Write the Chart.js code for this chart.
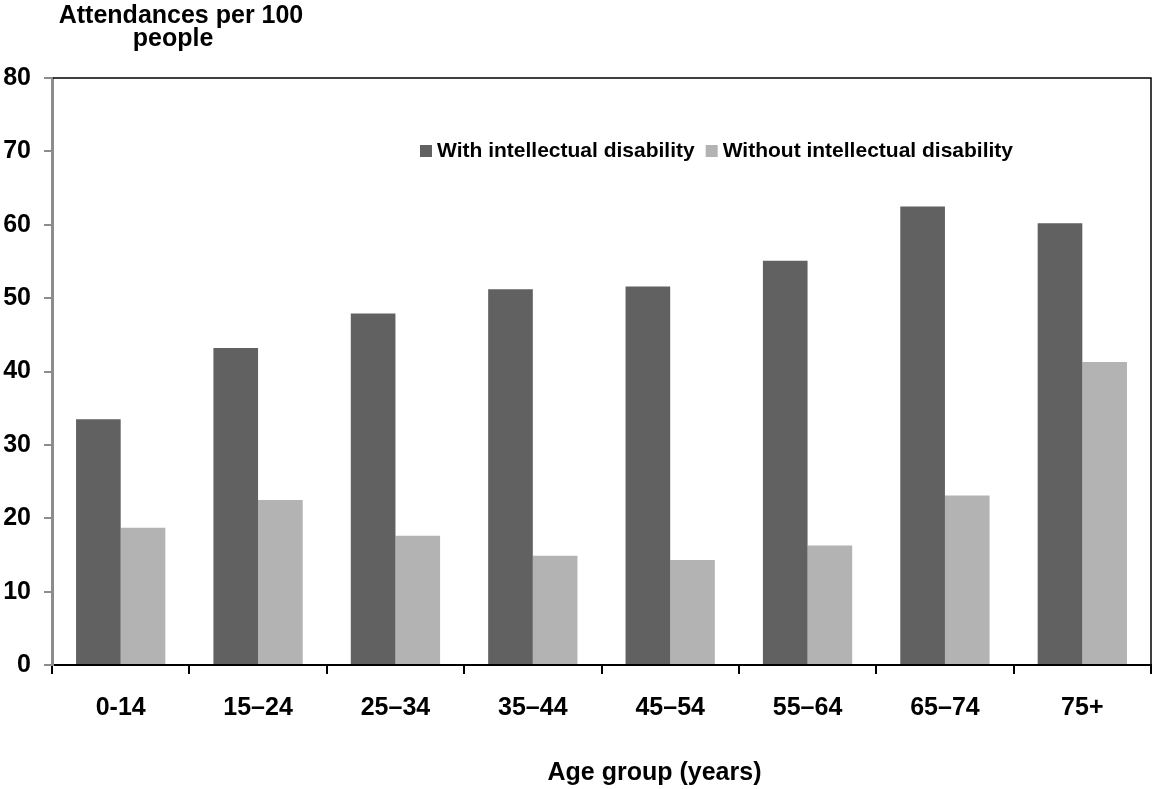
<!DOCTYPE html>
<html>
<head>
<meta charset="utf-8">
<title>Attendances by age group</title>
<script src="https://cdn.jsdelivr.net/npm/chart.js@4.4.1/dist/chart.umd.min.js"></script>
<style>
  html, body { margin: 0; padding: 0; background: #fff; }
  canvas { display: block; }
</style>
</head>
<body>
<canvas id="chart" width="1152" height="789"></canvas>
<script>
// data
const ageGroups = ['0-14', '15–24', '25–34', '35–44', '45–54', '55–64', '65–74', '75+'];
const withID = [33.5, 43.2, 47.9, 51.2, 51.6, 55.1, 62.5, 60.2];
const withoutID = [18.7, 22.5, 17.6, 14.9, 14.3, 16.3, 23.1, 41.3];
const seriesNames = ['With intellectual disability', 'Without intellectual disability'];
const yTicks = [0, 10, 20, 30, 40, 50, 60, 70, 80];

const FONT = "'Liberation Sans', Arial, sans-serif";
const DARK = '#616161';
const LIGHT = '#b3b3b3';
const AXIS_GREY = '#8c8c8c';

// titles, in-plot legend and the black frame on top / right
const extras = {
  id: 'extras',
  afterDraw(chart) {
    const ctx = chart.ctx;
    const a = chart.chartArea;
    ctx.save();

    // frame
    ctx.strokeStyle = '#000';
    ctx.lineWidth = 1.5;
    ctx.beginPath();
    ctx.moveTo(a.left + 1, a.top);
    ctx.lineTo(a.right, a.top);
    ctx.lineTo(a.right, a.bottom);
    ctx.stroke();

    // y title (two lines, above the axis)
    ctx.fillStyle = '#000';
    ctx.font = 'bold 25px ' + FONT;
    ctx.textAlign = 'center';
    ctx.textBaseline = 'alphabetic';
    ctx.fillText('Attendances per 100', a.left + 129, 23);
    ctx.fillText('people', a.left + 121, 46);

    // x title
    ctx.fillText('Age group (years)', (a.left + a.right) / 2 + 53, 780);

    // legend
    ctx.font = 'bold 21px ' + FONT;
    ctx.textAlign = 'left';
    ctx.textBaseline = 'middle';
    let x = a.left + 368;
    const cy = a.top + 73;
    chart.data.datasets.forEach(ds => {
      ctx.fillStyle = ds.backgroundColor;
      ctx.fillRect(x, cy - 6, 12, 12);
      x += 17;
      ctx.fillStyle = '#000';
      ctx.fillText(ds.label, x, cy);
      x += ctx.measureText(ds.label).width + 11;
    });

    ctx.restore();
  }
};

const cfg = {
  type: 'bar',
  data: {
    labels: ageGroups,
    datasets: [
      { label: seriesNames[0], data: withID, backgroundColor: DARK },
      { label: seriesNames[1], data: withoutID, backgroundColor: LIGHT }
    ]
  },
  options: {
    responsive: false,
    animation: false,
    devicePixelRatio: 1,
    layout: { padding: { top: 78, right: 1, left: 0, bottom: 0 } },
    datasets: {
      bar: { categoryPercentage: 0.65, barPercentage: 1, borderWidth: 0 }
    },
    plugins: {
      legend: { display: false },
      tooltip: { enabled: false },
      title: { display: false }
    },
    scales: {
      x: {
        grid: {
          offset: true,
          drawOnChartArea: false,
          tickLength: 9,
          color: '#000',
          lineWidth: 2
        },
        border: { color: '#000', width: 2 },
        ticks: {
          color: '#000',
          padding: 19,
          maxRotation: 0,
          autoSkip: false,
          font: { family: FONT, size: 25, weight: 'bold' }
        },
        afterFit(scale) { scale.height = 124; }
      },
      y: {
        min: 0,
        max: 80,
        afterBuildTicks(scale) { scale.ticks = yTicks.map(v => ({ value: v })); },
        grid: {
          drawOnChartArea: false,
          tickLength: 8,
          color: AXIS_GREY,
          lineWidth: 2
        },
        border: { color: AXIS_GREY, width: 3 },
        ticks: {
          color: '#000',
          padding: 13,
          font: { family: FONT, size: 25, weight: 'bold' }
        },
        afterFit(scale) { scale.width = 52; }
      }
    }
  },
  plugins: [extras]
};

new Chart(document.getElementById('chart'), cfg);
</script>
</body>
</html>
